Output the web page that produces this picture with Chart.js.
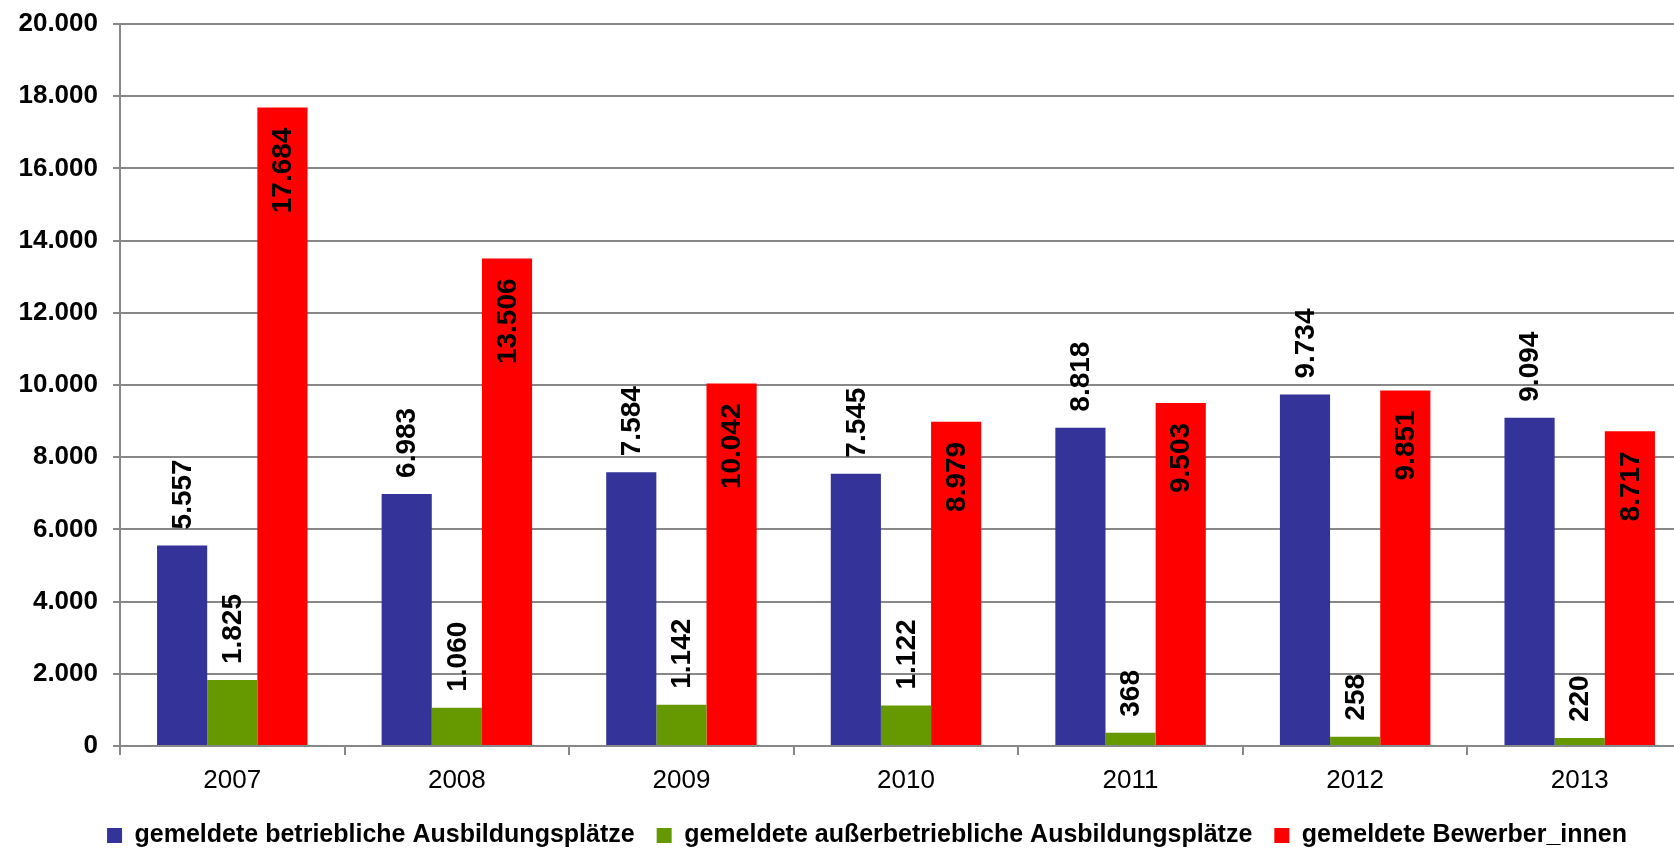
<!DOCTYPE html>
<html>
<head>
<meta charset="utf-8">
<script src="https://cdn.jsdelivr.net/npm/chart.js@4/dist/chart.umd.min.js"></script>
<style>
  html, body { margin: 0; padding: 0; background: #fff; overflow: hidden; }
  #wrap { width: 1692px; height: 848px; }
</style>
</head>
<body>
<div id="wrap"><canvas id="chart" width="1692" height="848"></canvas></div>
<script>
// Daten
const years = ["2007", "2008", "2009", "2010", "2011", "2012", "2013"];
const betrieblich = [5557, 6983, 7584, 7545, 8818, 9734, 9094];
const ausserbetrieblich = [1825, 1060, 1142, 1122, 368, 258, 220];
const bewerber = [17684, 13506, 10042, 8979, 9503, 9851, 8717];
const seriesNames = [
  "gemeldete betriebliche Ausbildungsplätze",
  "gemeldete außerbetriebliche Ausbildungsplätze",
  "gemeldete Bewerber_innen"
];

/** Tausenderpunkt wie im Original */
function fmtNum(v) {
  return String(Math.round(v)).replace(/\B(?=(\d{3})+(?!\d))/g, ".");
}

// Werte senkrecht an die Balken schreiben
const barLabels = {
  id: "barLabels",
  afterDatasetsDraw(chart) {
    const ctx = chart.ctx;
    ctx.save();
    ctx.font = "bold 28px 'Liberation Sans', Arial, sans-serif";
    ctx.fillStyle = "#000";
    ctx.textBaseline = "middle";
    chart.data.datasets.forEach((ds, di) => {
      const meta = chart.getDatasetMeta(di);
      meta.data.forEach((bar, i) => {
        const txt = fmtNum(ds.data[i]);
        ctx.save();
        ctx.translate(bar.x, bar.y);
        ctx.rotate(-Math.PI / 2);
        if (di === 2) {
          ctx.textAlign = "right";
          ctx.fillText(txt, -20, 1);
        } else {
          ctx.textAlign = "left";
          ctx.fillText(txt, 16, 1);
        }
        ctx.restore();
      });
    });
    ctx.restore();
  }
};

// Legende etwas tiefer und nach rechts schieben (wie im Excel-Original)
const legendTweak = {
  id: "legendTweak",
  afterInit(chart) {
    const lg = chart.legend;
    if (!lg) return;
    const origFit = lg.fit;
    lg.fit = function () {
      origFit.call(this);
      this.height -= 10;
    };
  },
  afterLayout(chart) {
    if (chart.legend) chart.legend.left += 42;
  }
};

const ctx = document.getElementById("chart").getContext("2d");
new Chart(ctx, {
  type: "bar",
  data: {
    labels: years,
    datasets: [
      { label: seriesNames[0], data: betrieblich, backgroundColor: "#333399" },
      { label: seriesNames[1], data: ausserbetrieblich, backgroundColor: "#669900" },
      { label: seriesNames[2], data: bewerber, backgroundColor: "#FF0000" }
    ]
  },
  options: {
    responsive: false,
    devicePixelRatio: 1,
    animation: false,
    layout: { padding: { top: 24, left: 0, right: 0, bottom: 0 } },
    datasets: { bar: { barPercentage: 1.0, categoryPercentage: 0.67 } },
    scales: {
      x: {
        offset: true,
        grid: { offset: true, drawOnChartArea: false, tickLength: 9, color: "#888", lineWidth: 2 },
        border: { display: true, color: "#888", width: 2 },
        ticks: { color: "#000", font: { family: "'Liberation Sans', Arial", size: 26 }, padding: 10 },
        afterFit: s => { s.height = 55; }
      },
      y: {
        min: 0,
        max: 20000,
        grid: { color: "#888", lineWidth: 2, tickLength: 7 },
        border: { display: true, color: "#888", width: 2 },
        ticks: {
          stepSize: 2000,
          color: "#000",
          padding: 15,
          font: { family: "'Liberation Sans', Arial", size: 26, weight: "bold" },
          callback: v => fmtNum(v)
        },
        afterFit: s => { s.width = 120; s.paddingTop = 0; }
      }
    },
    plugins: {
      tooltip: { enabled: false },
      legend: {
        position: "bottom",
        align: "center",
        labels: {
          color: "#000",
          boxWidth: 15,
          boxHeight: 15,
          padding: 22,
          font: { family: "'Liberation Sans', Arial", size: 25, weight: "bold" }
        }
      }
    }
  },
  plugins: [barLabels, legendTweak]
});
</script>
</body>
</html>
